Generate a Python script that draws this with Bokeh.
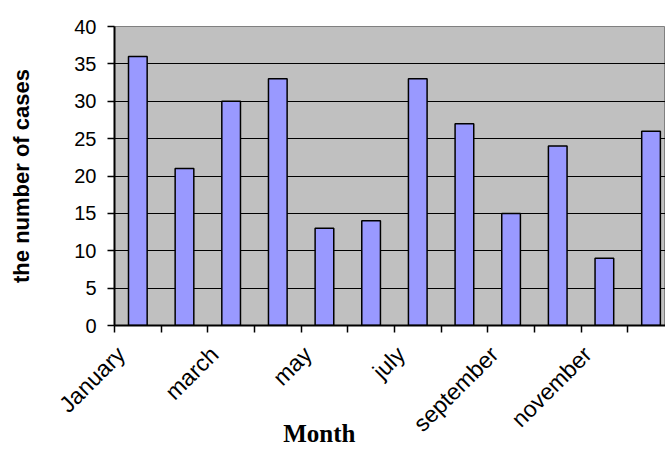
import math
from bokeh.plotting import figure
from bokeh.models import FixedTicker, Range1d, LinearAxis, ColumnDataSource
from bokeh.embed import file_html
from bokeh.resources import INLINE

# ---- data ----
months = ["January", "february", "march", "april", "may", "june",
          "july", "august", "september", "october", "november", "december"]
cases = [36, 21, 30, 33, 13, 14, 33, 27, 15, 24, 9, 26]
y_ticks = [0, 5, 10, 15, 20, 25, 30, 35, 40]
label_step = 2  # every other month labelled
x_title = "Month"
y_title = "the number of cases"

x_centers = [i + 0.5 for i in range(len(months))]
boundaries = list(range(len(months) + 1))
src = ColumnDataSource(dict(x=x_centers, top=cases, month=months))

p = figure(width=665, height=449, output_backend="svg", toolbar_location=None,
           x_range=Range1d(0, 11.81), y_range=Range1d(0, 40),
           min_border_left=114, min_border_right=0, min_border_top=26,
           min_border_bottom=123)
p.border_fill_color = "white"
p.background_fill_color = "#C0C0C0"
p.outline_line_color = "#808080"
p.outline_line_width = 1

p.vbar(x="x", top="top", bottom=0, width=0.4, source=src,
       fill_color="#9999FF", line_color="black", line_width=1.5)

# grid
p.xgrid.visible = False
p.ygrid.ticker = FixedTicker(ticks=y_ticks[1:-1])
p.ygrid.grid_line_color = "black"
p.ygrid.grid_line_width = 1.2

# x axis (labels sit a little left of the category centre, as in the original)
label_shift = -0.36
xa = p.xaxis[0]
label_idx = list(range(0, len(months), label_step))
xa.ticker = FixedTicker(ticks=[x_centers[i] + label_shift for i in label_idx],
                        minor_ticks=boundaries)
xa.major_label_overrides = {x_centers[i] + label_shift: months[i] for i in label_idx}
xa.major_tick_out = 0
xa.major_tick_in = 0
xa.minor_tick_out = 7
xa.minor_tick_in = 0
xa.minor_tick_line_color = "black"
xa.minor_tick_line_width = 1.5
xa.axis_line_color = "black"
xa.axis_line_width = 2
xa.major_label_orientation = math.pi / 4
xa.major_label_standoff = 18
xa.major_label_text_font = "Liberation Sans"
xa.major_label_text_font_size = "23px"
xa.major_label_text_color = "black"

# x-axis title, drawn as the single label of a bare extra axis so that it
# can sit left of centre and overlap the rotated month labels' band
title_pos = 4.39
ta = LinearAxis(ticker=FixedTicker(ticks=[title_pos], minor_ticks=[]),
                major_label_overrides={title_pos: x_title},
                major_tick_out=0, major_tick_in=0, minor_tick_out=0, minor_tick_in=0,
                axis_line_color=None, major_label_standoff=-29,
                major_label_text_font="Liberation Serif",
                major_label_text_font_style="bold",
                major_label_text_font_size="25px",
                major_label_text_color="black")
p.add_layout(ta, "below")

# y axis
ya = p.yaxis[0]
ya.ticker = FixedTicker(ticks=y_ticks)
ya.major_tick_out = 7
ya.major_tick_in = 0
ya.minor_tick_out = 0
ya.minor_tick_in = 0
ya.major_tick_line_color = "black"
ya.major_tick_line_width = 1.5
ya.axis_line_color = "black"
ya.axis_line_width = 2
ya.major_label_standoff = 11
ya.major_label_text_font = "Liberation Sans"
ya.major_label_text_font_size = "20px"
ya.major_label_text_color = "black"
ya.axis_label = y_title
ya.axis_label_text_font = "Liberation Sans"
ya.axis_label_text_font_style = "bold"
ya.axis_label_text_font_size = "22px"
ya.axis_label_text_color = "black"
ya.axis_label_standoff = 37

open("out.html", "w").write(file_html(p, INLINE))
